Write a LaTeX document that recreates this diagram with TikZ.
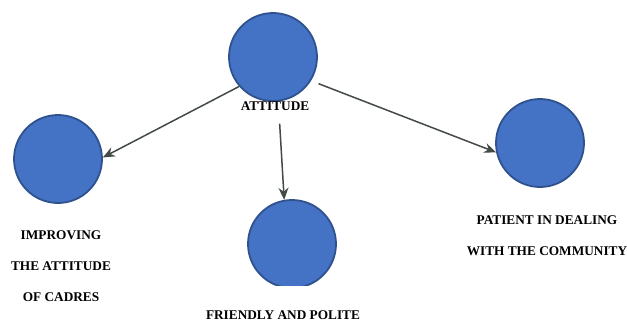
\documentclass[tikz,border=0pt]{standalone}
\usepackage{fontspec}
\setmainfont{Liberation Serif}
\usetikzlibrary{arrows.meta}
\definecolor{bubblefill}{HTML}{4472C4}
\definecolor{bubbleedge}{HTML}{2F528F}
\definecolor{arrowgray}{HTML}{444A46}
\tikzset{
  bubble/.style={circle, fill=bubblefill, draw=bubbleedge, line width=1.8pt,
    minimum size=88pt, inner sep=0pt},
  caption/.style={font=\bfseries\fontsize{13.3}{31}\selectfont, align=center, inner sep=2pt},
  arr/.style={draw=arrowgray, line width=1.5pt,
    -{Stealth[length=12pt, width=10pt, inset=4pt]}},
}
\begin{document}
\begin{tikzpicture}[x=1pt, y=-1pt]
  \useasboundingbox[fill=white] (0,0) rectangle (627,322);

  % bubbles
  \node[bubble] (att) at (273,57) {};
  \node[bubble] (imp) at (58,159) {};
  \node[bubble] (pat) at (540,143) {};
  \begin{scope}
    \clip (0,0) rectangle (627,285);
    \node[bubble] (fri) at (292,244) {};
  \end{scope}

  % captions
  \node[caption] (attlbl) at (275,106) {ATTITUDE};
  \node[caption] (implbl) at (61,266) {IMPROVING\\THE ATTITUDE\\OF CADRES};
  \node[caption] (frilbl) at (283,315) {FRIENDLY AND POLITE};
  \node[caption] (patlbl) at (547,236) {PATIENT IN DEALING\\WITH THE COMMUNITY};

  % connectors
  \draw[arr] (att.221) -- (imp.2);
  \draw[arr, shorten <=11pt] ([xshift=4pt]attlbl.south) -- (fri.100);
  \draw[arr, shorten <=8pt] (att.-32) -- (pat.192);
\end{tikzpicture}
\end{document}
